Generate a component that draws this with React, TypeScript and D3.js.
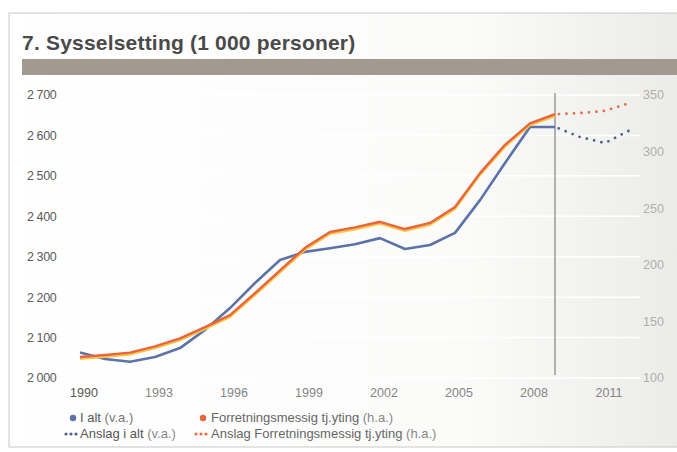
import { useRef, useEffect } from "react";
import * as d3 from "d3";

const years = [1990, 1991, 1992, 1993, 1994, 1995, 1996, 1997, 1998, 1999, 2000, 2001, 2002, 2003, 2004, 2005, 2006, 2007, 2008, 2009];
const totalValues = [2063, 2047, 2040, 2052, 2074, 2119, 2173, 2235, 2292, 2312, 2321, 2331, 2346, 2319, 2329, 2359, 2440, 2532, 2621, 2621];
const businessValues = [118.5, 120.3, 122.4, 128, 135, 145, 155.6, 175, 195, 215, 229, 233, 238, 231.6, 237, 251, 281, 306, 325, 333];

const forecastYears = [2009, 2010, 2011, 2012];
const totalForecast = [2621, 2596, 2581, 2613];
const businessForecast = [333, 334, 336, 343];

const leftTicks = [2000, 2100, 2200, 2300, 2400, 2500, 2600, 2700];
const rightTicks = [100, 150, 200, 250, 300, 350];
const xTicks = [1990, 1993, 1996, 1999, 2002, 2005, 2008, 2011];

const BLUE = "#5b73a8";
const ORANGE = "#e9643a";
const YELLOW = "#f4c64a";
const FONT = "'Liberation Sans', Arial, sans-serif";

const fmt = (v: number) => (v >= 1000 ? `${Math.floor(v / 1000)} ${String(v % 1000).padStart(3, "0")}` : String(v));

export default function App() {
  const svgRef = useRef<SVGSVGElement>(null);

  useEffect(() => {
    if (!svgRef.current) return;
    const svg = d3.select(svgRef.current);
    svg.selectAll("*").remove();

    const W = 677;
    const H = 452;
    svg.attr("width", W).attr("height", H);

    const defs = svg.append("defs");
    const grad = defs.append("linearGradient").attr("id", "paper").attr("x1", 0).attr("x2", 1).attr("y1", 0).attr("y2", 0);
    grad.append("stop").attr("offset", "0%").attr("stop-color", "#ffffff");
    grad.append("stop").attr("offset", "65%").attr("stop-color", "#fbfbfa");
    grad.append("stop").attr("offset", "100%").attr("stop-color", "#e9e9e6");

    svg.append("rect").attr("width", W).attr("height", H).attr("fill", "#fff");
    // panel
    svg.append("rect").attr("x", 9).attr("y", 13).attr("width", 700).attr("height", 434)
      .attr("fill", "url(#paper)").attr("stroke", "#c8c8c4").attr("stroke-width", 1);

    svg.append("text").attr("x", 22).attr("y", 50).attr("font-family", FONT).attr("font-weight", "bold")
      .attr("font-size", 21).attr("fill", "#4a4a4a").attr("letter-spacing", 0.2)
      .text("7. Sysselsetting (1 000 personer)");

    svg.append("rect").attr("x", 22).attr("y", 59).attr("width", 660).attr("height", 16).attr("fill", "#a39a8f");

    const x = d3.scaleLinear().domain([1990, 2012]).range([80, 630]);
    const yL = d3.scaleLinear().domain([2000, 2700]).range([378, 95]);
    const yR = d3.scaleLinear().domain([100, 350]).range([378, 95]);

    // gridlines
    svg.append("g").selectAll("line").data(leftTicks).enter().append("line")
      .attr("x1", 22).attr("x2", 640).attr("y1", (d) => yL(d)).attr("y2", (d) => yL(d))
      .attr("stroke", "#ffffff").attr("stroke-width", 1.5);

    // forecast divider
    svg.append("line").attr("x1", x(2009)).attr("x2", x(2009)).attr("y1", yL(2700) - 2).attr("y2", yL(2000) - 3)
      .attr("stroke", "#9a9a98").attr("stroke-width", 1.5);

    // left axis labels
    svg.append("g").selectAll("text").data(leftTicks).enter().append("text")
      .attr("x", 27).attr("y", (d) => yL(d)).attr("dy", "0.35em")
      .attr("font-family", FONT).attr("font-size", 12.5).attr("fill", "#5a5a5a").attr("letter-spacing", -0.4)
      .text((d) => fmt(d));

    // right axis labels
    svg.append("g").selectAll("text").data(rightTicks).enter().append("text")
      .attr("x", 643).attr("y", (d) => yR(d)).attr("dy", "0.35em")
      .attr("font-family", FONT).attr("font-size", 12.5).attr("fill", "#b0b0ad")
      .text((d) => String(d));

    // x labels
    svg.append("g").selectAll("text").data(xTicks).enter().append("text")
      .attr("x", (d) => x(d) + 4).attr("y", 397).attr("text-anchor", "middle")
      .attr("font-family", FONT).attr("font-size", 12.5).attr("fill", (d) => (d === 1990 ? "#555" : "#858585"))
      .text((d) => String(d));

    const lineL = d3.line<number>().x((_, i) => x(years[i])).y((d) => yL(d));
    const lineR = d3.line<number>().x((_, i) => x(years[i])).y((d) => yR(d));

    svg.append("path").attr("d", lineL(totalValues)).attr("fill", "none").attr("stroke", BLUE)
      .attr("stroke-width", 2.6).attr("stroke-linejoin", "round");
    svg.append("path").attr("d", lineR(businessValues)).attr("fill", "none").attr("stroke", YELLOW)
      .attr("stroke-width", 2.4).attr("transform", "translate(0,1.8)").attr("stroke-linejoin", "round");
    svg.append("path").attr("d", lineR(businessValues)).attr("fill", "none").attr("stroke", ORANGE)
      .attr("stroke-width", 2.4).attr("stroke-linejoin", "round");

    const fL = d3.line<number>().x((_, i) => x(forecastYears[i])).y((d) => yL(d));
    const fR = d3.line<number>().x((_, i) => x(forecastYears[i])).y((d) => yR(d));

    svg.append("path").attr("d", fL(totalForecast)).attr("fill", "none").attr("stroke", "#52608a")
      .attr("stroke-width", 2.8).attr("stroke-dasharray", "0 7.5").attr("stroke-dashoffset", -4)
      .attr("stroke-linecap", "round");
    svg.append("path").attr("d", fR(businessForecast)).attr("fill", "none").attr("stroke", "#ee6a45")
      .attr("stroke-width", 2.8).attr("stroke-dasharray", "0 7.5").attr("stroke-dashoffset", -4)
      .attr("stroke-linecap", "round");

    // legend
    const lg = svg.append("g").attr("font-family", FONT).attr("font-size", 13);
    const row1 = 422;
    const row2 = 438;
    lg.append("circle").attr("cx", 73).attr("cy", row1 - 4).attr("r", 3.2).attr("fill", BLUE);
    const t1 = lg.append("text").attr("x", 80).attr("y", row1).attr("fill", "#555");
    t1.append("tspan").text("I alt ");
    t1.append("tspan").attr("fill", "#777").text("(v.a.)");
    lg.append("circle").attr("cx", 203).attr("cy", row1 - 4).attr("r", 3.2).attr("fill", ORANGE);
    const t2 = lg.append("text").attr("x", 211).attr("y", row1).attr("fill", "#666");
    t2.append("tspan").text("Forretningsmessig tj.yting  ");
    t2.append("tspan").attr("fill", "#888").text("(h.a.)");

    [66, 71, 76].forEach((cx) => lg.append("circle").attr("cx", cx).attr("cy", row2 - 4).attr("r", 1.6).attr("fill", "#52608a"));
    const t3 = lg.append("text").attr("x", 80).attr("y", row2).attr("fill", "#555");
    t3.append("tspan").text("Anslag i alt ");
    t3.append("tspan").attr("fill", "#888").text("(v.a.)");
    [196, 201, 206].forEach((cx) => lg.append("circle").attr("cx", cx).attr("cy", row2 - 4).attr("r", 1.6).attr("fill", "#ee6a45"));
    const t4 = lg.append("text").attr("x", 211).attr("y", row2).attr("fill", "#666");
    t4.append("tspan").text("Anslag Forretningsmessig tj.yting ");
    t4.append("tspan").attr("fill", "#888").text("(h.a.)");
  }, []);

  return (
    <div style={{ position: "absolute", left: 0, top: 0 }}>
      <svg ref={svgRef} style={{ display: "block" }} />
    </div>
  );
}
